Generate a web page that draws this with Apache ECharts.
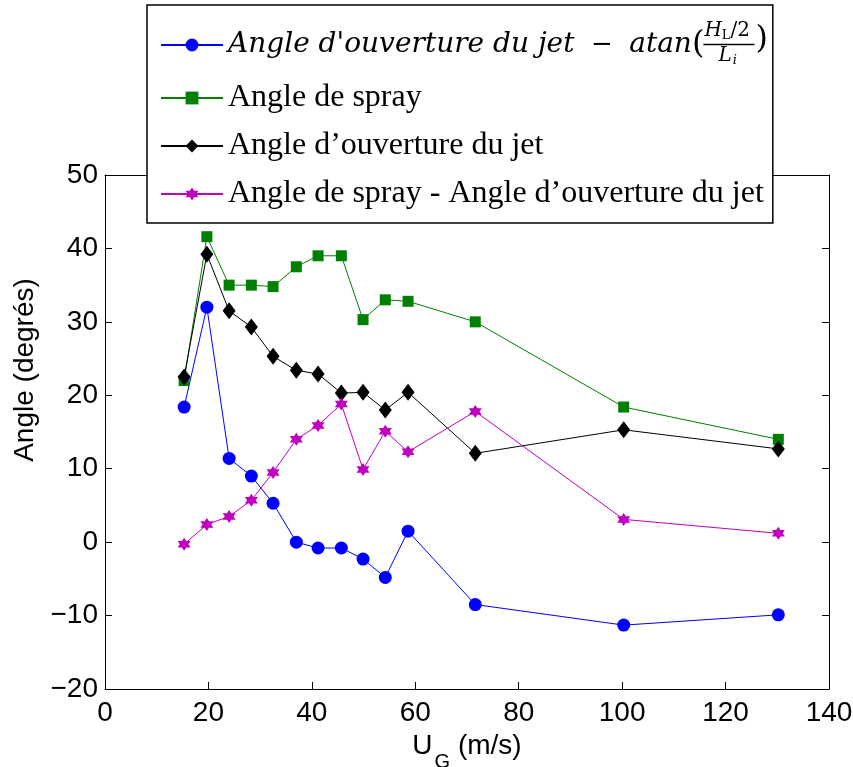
<!DOCTYPE html>
<html><head><meta charset="utf-8">
<script src="https://cdn.jsdelivr.net/npm/echarts@6/dist/echarts.min.js"></script>
<style>html,body{margin:0;padding:0;background:#fff}#c{width:853px;height:767px}</style>
</head><body><div id="c"></div>
<script>
// ---- data ----
const ugValues = [15.3, 19.7, 24.0, 28.3, 32.5, 37.0, 41.2, 45.7, 49.9, 54.2, 58.6, 71.6, 100.3, 130.2];
const angleJetMinusAtan = [18.4, 32.0, 11.4, 9.0, 5.3, 0.0, -0.8, -0.8, -2.3, -4.8, 1.5, -8.5, -11.3, -9.9];
const angleSpray = [22.0, 41.6, 35.0, 35.0, 34.8, 37.5, 39.0, 39.0, 30.3, 33.0, 32.8, 30.0, 18.4, 14.0];
const angleJet = [22.5, 39.2, 31.5, 29.3, 25.3, 23.4, 22.9, 20.3, 20.4, 18.0, 20.4, 12.1, 15.3, 12.7];
const angleDiff = [-0.3, 2.4, 3.5, 5.7, 9.5, 14.0, 15.9, 18.8, 9.9, 15.1, 12.3, 17.8, 3.1, 1.2];
const xTicks = [0, 20, 40, 60, 80, 100, 120, 140];
const yTicks = [-20, -10, 0, 10, 20, 30, 40, 50];
const seriesNames = [
  "Angle d'ouverture du jet - atan(H_L/2 / L_i)",
  "Angle de spray",
  "Angle d'ouverture du jet",
  "Angle de spray - Angle d'ouverture du jet"
];
const yAxisTitle = "Angle (degrés)";

// ---- helpers ----
const pairs = arr => ugValues.map((x, i) => [x, arr[i]]);
const star = 'path://M0,-10 L2.9,-5 L8.66,-5 L5.77,0 L8.66,5 L2.9,5 L0,10 L-2.9,5 L-8.66,5 L-5.77,0 L-8.66,-5 L-2.9,-5 Z';
const serifFont = '"Liberation Serif", "Times New Roman", serif';
const mathFont = '"DejaVu Serif", serif';
const sansFont = '"Liberation Sans", Arial, sans-serif';

// measure text widths for placing the fraction after the first legend entry
const mctx = document.createElement('canvas').getContext('2d');
function tw(font, s) { mctx.font = font; return mctx.measureText(s).width; }
const part1 = "Angle d'ouverture du jet";
const part2 = "  \u2212  ";
const part3 = "atan";
const part4 = "(";
const legendLeft = 147, legendPadLeft = 13, legendItemW = 62;
const textStart = legendLeft + legendPadLeft + legendItemW + 5;
const w1 = tw('italic 28px ' + mathFont, part1);
const w2 = tw('26px ' + mathFont, part2);
const w3 = tw('italic 28px ' + mathFont, part3);
const w4 = tw('32px ' + mathFont, part4);
const fracLeft = textStart + w1 + w2 + w3 + w4 + 1;
const fracW = 50;

const chart = echarts.init(document.getElementById('c'), null, {renderer: 'canvas'});
const lineSer = (name, data, color, symbol, size) => ({
  name, type: 'line', data, symbol, symbolSize: size,
  lineStyle: {color, width: 1}, itemStyle: {color, borderWidth: 0},
  emphasis: {disabled: true}, animation: false, clip: false
});

const axisCommon = {
  axisLine: {show: true, onZero: false, lineStyle: {color: '#000', width: 1}},
  axisTick: {show: true, inside: true, length: 7, lineStyle: {color: '#000', width: 1}},
  splitLine: {show: false}
};

chart.setOption({
  animation: false,
  backgroundColor: '#fff',
  grid: {left: 105, right: 24, top: 175, bottom: 78, containLabel: false, outerBoundsMode: 'none'},
  xAxis: [
    Object.assign({}, axisCommon, {
      type: 'value', min: 0, max: 140, interval: 20, position: 'bottom',
      axisLabel: {color: '#000', fontFamily: sansFont, fontSize: 28, margin: 10},
      name: '{n|U}{s|G}{n| (m/s)}', nameLocation: 'middle', nameGap: 27,
      nameTextStyle: {color: '#000', fontFamily: sansFont, fontSize: 28,
        rich: {n: {fontFamily: sansFont, fontSize: 28, color: '#000', lineHeight: 34, verticalAlign: 'top'},
               s: {fontFamily: sansFont, fontSize: 20, color: '#000', lineHeight: 20, padding: [21, 0, 0, 2], verticalAlign: 'top'}}}
    }),
    Object.assign({}, axisCommon, {
      type: 'value', min: 0, max: 140, interval: 20, position: 'top',
      axisLabel: {show: false}
    })
  ],
  yAxis: [
    Object.assign({}, axisCommon, {
      type: 'value', min: -20, max: 50, interval: 10, position: 'left',
      axisLabel: {color: '#000', fontFamily: sansFont, fontSize: 28, margin: 7,
        formatter: v => v < 0 ? '\u2212' + Math.abs(v) : String(v)},
      name: yAxisTitle, nameLocation: 'middle', nameGap: 58, nameRotate: 90,
      nameTextStyle: {color: '#000', fontFamily: sansFont, fontSize: 28, padding: [0, 0, 0, 124]}
    }),
    Object.assign({}, axisCommon, {
      type: 'value', min: -20, max: 50, interval: 10, position: 'right',
      axisLabel: {show: false}
    })
  ],
  legend: {
    orient: 'vertical', left: legendLeft, top: 5,
    backgroundColor: '#fff', borderColor: '#000', borderWidth: 1.5, borderRadius: 0,
    padding: [19, 9, 13, legendPadLeft],
    itemWidth: legendItemW, itemHeight: 16, itemGap: 16,
    selectedMode: false,
    data: seriesNames,
    textStyle: {color: '#000', fontFamily: serifFont, fontSize: 32, lineHeight: 30,
      rich: {
        it: {fontFamily: mathFont, fontStyle: 'italic', fontSize: 28, color: '#000', lineHeight: 42},
        m: {fontFamily: mathFont, fontSize: 26, color: '#000', lineHeight: 42},
        p: {fontFamily: mathFont, fontSize: 32, color: '#000', lineHeight: 42}
      }},
    formatter: name => name === seriesNames[0]
      ? '{it|' + part1 + '}{m|' + part2 + '}{it|' + part3 + '}{p|' + part4 + '}'
      : name.replace("d'", "d\u2019")
  },
  graphic: [
    {type: 'text', left: fracLeft, top: 21, z: 100,
      style: {text: '{i|H}{s|L}{r|/2}', rich: {
        i: {fontFamily: mathFont, fontStyle: 'italic', fontSize: 20, fill: '#000', lineHeight: 20, verticalAlign: 'top'},
        s: {fontFamily: mathFont, fontSize: 13, fill: '#000', lineHeight: 13, padding: [8, 0, 0, 0], verticalAlign: 'top'},
        r: {fontFamily: mathFont, fontSize: 20, fill: '#000', lineHeight: 20, verticalAlign: 'top'}}}},
    {type: 'line', z: 100, shape: {x1: fracLeft - 1, y1: 44.5, x2: fracLeft + fracW, y2: 44.5},
      style: {stroke: '#000', lineWidth: 1.3}},
    {type: 'text', left: fracLeft + 14, top: 46, z: 100,
      style: {text: '{i|L}{s|i}', rich: {
        i: {fontFamily: mathFont, fontStyle: 'italic', fontSize: 20, fill: '#000', lineHeight: 20, verticalAlign: 'top'},
        s: {fontFamily: mathFont, fontStyle: 'italic', fontSize: 13, fill: '#000', lineHeight: 13, padding: [8, 0, 0, 1], verticalAlign: 'top'}}}},
    {type: 'text', left: fracLeft + fracW + 1, top: 24, z: 100,
      style: {text: ')', fontFamily: mathFont, fontSize: 32, fill: '#000'}}
  ],
  series: [
    lineSer(seriesNames[0], pairs(angleJetMinusAtan), '#0000ff', 'circle', 13),
    lineSer(seriesNames[1], pairs(angleSpray), '#008000', 'rect', 11),
    lineSer(seriesNames[2], pairs(angleJet), '#000000', 'diamond', [13, 17]),
    lineSer(seriesNames[3], pairs(angleDiff), '#bf00bf', star, 13)
  ]
});
</script></body></html>
